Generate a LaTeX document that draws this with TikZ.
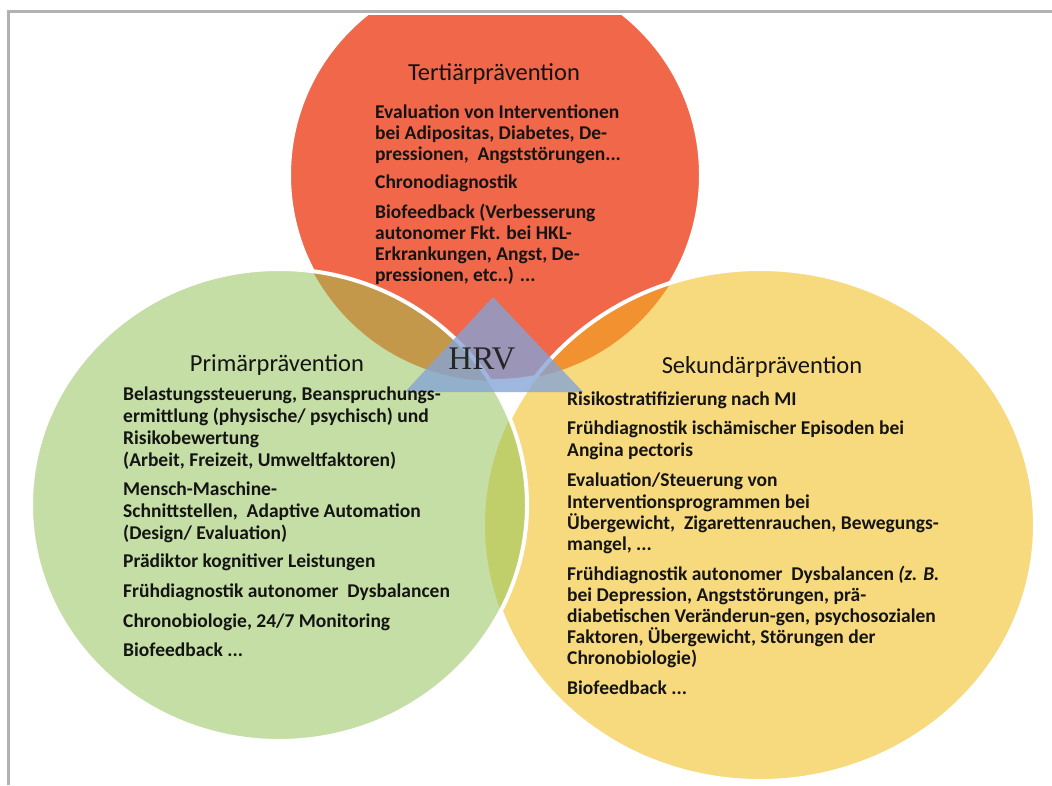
\documentclass[tikz,border=0pt]{standalone}
\usepackage{fontspec}
\setmainfont{Carlito}
\newfontfamily\hrvfont{Liberation Serif}
\definecolor{redc}{RGB}{240,103,73}
\definecolor{greenc}{RGB}{197,222,165}
\definecolor{yellowc}{RGB}{247,217,126}
\definecolor{brownc}{RGB}{196,152,74}
\definecolor{orangec}{RGB}{242,145,48}
\definecolor{olivec}{RGB}{192,207,106}
\definecolor{tric}{RGB}{132,164,214}
\definecolor{framec}{RGB}{178,178,178}
\definecolor{txtc}{RGB}{20,20,20}
\begin{document}
\begin{tikzpicture}[x=1pt,y=-1pt,
  framestyle/.style={draw=framec, line width=3pt},
  outline/.style={draw=white, line width=4pt},
  tri/.style={fill=tric, fill opacity=0.78},
  body/.style={anchor=north west, align=left, inner sep=0pt, text=txtc,
    font=\fontsize{19.5}{#1}\selectfont\bfseries, execute at begin node=\strut},
  body/.default=21.3,
  title/.style={anchor=base, inner sep=0pt, text=txtc, font=\fontsize{24.5}{28}\selectfont},
  hrv/.style={inner sep=0pt, text={rgb,255:red,38;green,38;blue,38}, font=\hrvfont\fontsize{33}{36}\selectfont}]
\useasboundingbox (0,0) rectangle (1052,785);
% frame
\draw[framestyle] (8.5,785) -- (8.5,11.5) -- (1052,11.5);
\begin{scope}
\clip (0,15) rectangle (1052,785);
% red circle
\path[fill=redc, outline] (495,175) circle [radius=206pt];
% yellow circle
\fill[yellowc] (760,525) ellipse [x radius=275pt, y radius=256pt];
\begin{scope}
\clip (760,525) ellipse [x radius=275pt, y radius=256pt];
\fill[orangec] (495,175) circle [radius=206pt];
\end{scope}
\path[outline] (760,525) ellipse [x radius=275pt, y radius=256pt];
% green circle
\fill[greenc] (279,505) ellipse [x radius=248pt, y radius=236pt];
\begin{scope}
\clip (279,505) ellipse [x radius=248pt, y radius=236pt];
\fill[brownc] (495,175) circle [radius=206pt];
\fill[olivec] (760,525) ellipse [x radius=275pt, y radius=256pt];
\end{scope}
\path[outline] (279,505) ellipse [x radius=248pt, y radius=236pt];
\end{scope}
% triangle
\coordinate (apex) at (493,297);
\coordinate (bl) at (405,392);
\coordinate (br) at (583,392);
\fill[tri] (apex) -- (bl) -- (br) -- cycle;
\node[hrv] (hrv) at (482,359) {HRV};
% top circle
\node[title] (t0) at (494,80) {Tertiärprävention};
\node[body=21] (t1) at (375,104.5) {Evaluation von Interventionen\\bei Adipositas, Diabetes, De-\\pressionen,\ \ Angststörungen...};
\node[body=21] (t2) at (375,174) {Chronodiagnostik};
\node[body=21] (t3) at (375,203.5) {Biofeedback (Verbesserung\\autonomer Fkt. bei HKL-\\Erkrankungen, Angst, De-\\pressionen, etc..) ...};
% left circle
\node[title] (p0) at (277,371) {Primärprävention};
\node[body=22] (p1) at (123,387) {Belastungssteuerung, Beanspruchungs-\\ermittlung (physische/ psychisch) und\\Risikobewertung\\(Arbeit, Freizeit, Umweltfaktoren)};
\node[body=22] (p2) at (123,481.5) {Mensch-Maschine-\\Schnittstellen,\ \ Adaptive Automation\\(Design/ Evaluation)};
\node[body=22] (p3) at (123,551.5) {Prädiktor kognitiver Leistungen};
\node[body=22] (p4) at (123,581.5) {Frühdiagnostik autonomer\ \ Dysbalancen};
\node[body=22] (p5) at (123,611.5) {Chronobiologie, 24/7 Monitoring};
\node[body=22] (p6) at (123,641) {Biofeedback ...};
% right circle
\node[title] (s0) at (762,373) {Sekundärprävention};
\node[body] (s1) at (567,390) {Risikostratifizierung nach MI};
\node[body] (s2) at (567,421) {Frühdiagnostik ischämischer Episoden bei\\Angina pectoris};
\node[body] (s3) at (567,473) {Evaluation/Steuerung von\\Interventionsprogrammen bei\\Übergewicht,\ \ Zigarettenrauchen, Bewegungs-\\mangel, ...};
\node[body=21.2] (s4) at (567,565.5) {Frühdiagnostik autonomer\ \ Dysbalancen \textit{(z. B.}\\bei Depression, Angststörungen, prä-\\diabetischen Veränderun-gen, psychosozialen\\Faktoren, Übergewicht, Störungen der\\Chronobiologie)};
\node[body] (s5) at (567,679) {Biofeedback ...};
\end{tikzpicture}
\end{document}
